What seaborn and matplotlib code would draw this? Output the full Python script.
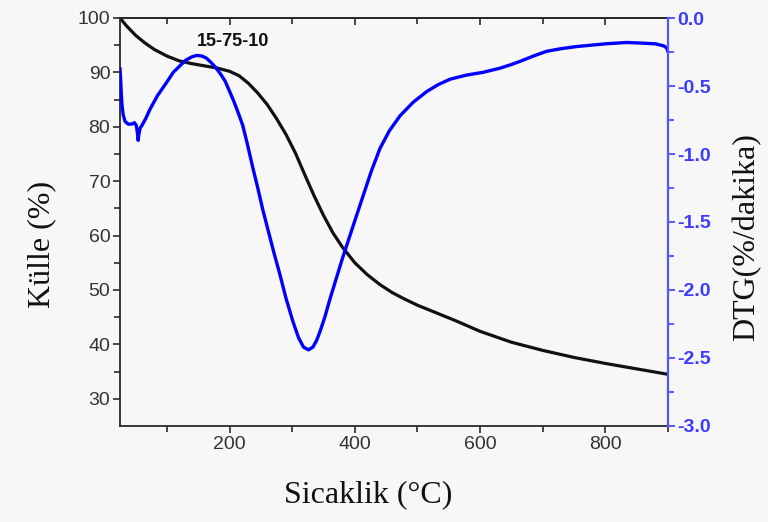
import matplotlib
matplotlib.use("Agg")
import matplotlib.pyplot as plt
import matplotlib.ticker as mticker
import seaborn as sns
import pandas as pd

# Mass (TG) curve
temp_mass = [25, 35, 50, 65, 80, 100, 120, 140, 160, 180, 200, 215, 230, 245, 260, 275,
             290, 305, 320, 335, 350, 365, 380, 400, 420, 440, 460, 480, 500, 530, 560,
             600, 650, 700, 750, 800, 850, 900]
mass = [100, 98.6, 96.8, 95.4, 94.2, 93.0, 92.1, 91.6, 91.2, 90.8, 90.2, 89.4, 88.0, 86.2,
        84.1, 81.5, 78.6, 75.2, 71.2, 67.3, 63.7, 60.5, 57.9, 55.0, 52.8, 51.0, 49.5, 48.3,
        47.2, 45.8, 44.4, 42.4, 40.4, 38.9, 37.6, 36.5, 35.5, 34.5]

# DTG curve
temp_dtg = [25, 26, 27, 28, 30, 33, 38, 44, 48, 51, 53, 54, 55, 57, 60, 66, 73, 85, 100,
            110, 121, 130, 140, 148, 156, 163, 170, 178, 186, 193, 200, 207, 214, 221, 228,
            236, 245, 253, 262, 271, 280, 290, 301, 310, 318, 326, 333, 339, 344, 352, 360,
            370, 380, 390, 400, 413, 426, 440, 455, 472, 493, 515, 533, 552, 578, 604, 631,
            648, 663, 685, 706, 730, 754, 800, 834, 860, 880, 893, 898, 900]
dtg = [-0.37, -0.45, -0.55, -0.63, -0.71, -0.76, -0.78, -0.78, -0.77, -0.79, -0.85, -0.90,
       -0.86, -0.81, -0.79, -0.74, -0.67, -0.57, -0.47, -0.40, -0.35, -0.31, -0.285, -0.275,
       -0.28, -0.295, -0.325, -0.365, -0.415, -0.465, -0.54, -0.615, -0.70, -0.79, -0.92,
       -1.08, -1.25, -1.41, -1.57, -1.73, -1.88, -2.06, -2.23, -2.35, -2.42, -2.44, -2.42,
       -2.37, -2.31, -2.20, -2.07, -1.92, -1.77, -1.63, -1.49, -1.31, -1.13, -0.96, -0.83,
       -0.72, -0.62, -0.54, -0.49, -0.45, -0.42, -0.40, -0.37, -0.345, -0.32, -0.28,
       -0.245, -0.225, -0.21, -0.19, -0.18, -0.185, -0.19, -0.205, -0.22, -0.25]

sample_label = "15-75-10"
xlabel = "Sicaklik (°C)"
ylabel_left = "Külle (%)"
ylabel_right = "DTG(%/dakika)"

df_mass = pd.DataFrame({"T": temp_mass, "m": mass})
df_dtg = pd.DataFrame({"T": temp_dtg, "d": dtg})

sns.set_theme(style="ticks")
bg = "#f7f7f7"
dark = "#2a2a2a"
blue = "#0000ff"
tblue = "#3b3bff"

fig = plt.figure(figsize=(7.68, 5.22), dpi=100, facecolor=bg)
ax = fig.add_axes([120/768, 1-426/522, 548/768, 408/522], facecolor=bg)

sns.lineplot(data=df_mass, x="T", y="m", ax=ax, color="#111111", linewidth=2.3, sort=False)
ax.set_xlim(25, 900)
ax.set_ylim(25, 100)
ax.xaxis.set_major_locator(mticker.MultipleLocator(200))
ax.xaxis.set_minor_locator(mticker.MultipleLocator(100))
ax.yaxis.set_major_locator(mticker.FixedLocator([30, 40, 50, 60, 70, 80, 90, 100]))
ax.yaxis.set_minor_locator(mticker.FixedLocator([35, 45, 55, 65, 75, 85, 95]))
ax.tick_params(axis="both", which="both", direction="out", color=dark, width=1.2,
               labelcolor="#333333", labelsize=14, pad=2)
ax.tick_params(axis="both", which="major", length=5)
ax.tick_params(axis="both", which="minor", length=4)
ax.tick_params(axis="y", right=False)
for s in ["left", "bottom", "top"]:
    ax.spines[s].set_color(dark)
    ax.spines[s].set_linewidth(1.3)
ax.spines["right"].set_visible(False)
for lab in ax.get_xticklabels() + ax.get_yticklabels():
    lab.set_fontfamily("Liberation Sans")

ax.set_xlabel(xlabel, fontfamily="Liberation Serif", fontsize=23, color="#111111")
ax.set_ylabel(ylabel_left, fontfamily="Liberation Serif", fontsize=23, color="#111111")
ax.xaxis.set_label_coords(0.4526, -0.132)
ax.yaxis.set_label_coords(-0.116, 0.444)

top = ax.secondary_xaxis("top")
top.xaxis.set_major_locator(mticker.MultipleLocator(200))
top.xaxis.set_minor_locator(mticker.MultipleLocator(100))
top.tick_params(axis="x", which="both", direction="in", color=dark, width=1.2, labeltop=False)
top.tick_params(axis="x", which="major", length=5)
top.tick_params(axis="x", which="minor", length=4)
top.spines["top"].set_color(dark)
top.spines["top"].set_linewidth(1.3)

ax.text(205, 95.6, sample_label, fontfamily="Liberation Sans", fontweight="bold",
        fontsize=13, color="#111111", ha="center", va="center")

ax2 = ax.twinx()
sns.lineplot(data=df_dtg, x="T", y="d", ax=ax2, color=blue, linewidth=2.4, sort=False)
ax2.set_ylim(-3.0, 0.0)
ax2.yaxis.set_major_locator(mticker.MultipleLocator(0.5))
ax2.yaxis.set_minor_locator(mticker.MultipleLocator(0.25))
ax2.yaxis.set_major_formatter(mticker.FormatStrFormatter("%.1f"))
ax2.tick_params(axis="y", which="both", direction="out", color=tblue, width=1.2,
                labelcolor=tblue, labelsize=14, pad=2)
ax2.tick_params(axis="y", which="major", length=5)
ax2.tick_params(axis="y", which="minor", length=4)
for s in ["left", "bottom", "top"]:
    ax2.spines[s].set_visible(False)
ax2.spines["right"].set_color("#5555ff")
ax2.spines["right"].set_linewidth(1.6)
for lab in ax2.get_yticklabels():
    lab.set_fontfamily("Liberation Sans")
    lab.set_fontweight("bold")
ax2.set_ylabel(ylabel_right, fontfamily="Liberation Serif", fontsize=23, color="#111111")
ax2.yaxis.set_label_coords(1.117, 0.462)
ax2.set_xlim(25, 900)

fig.savefig("out.png", dpi=100, facecolor=bg)
